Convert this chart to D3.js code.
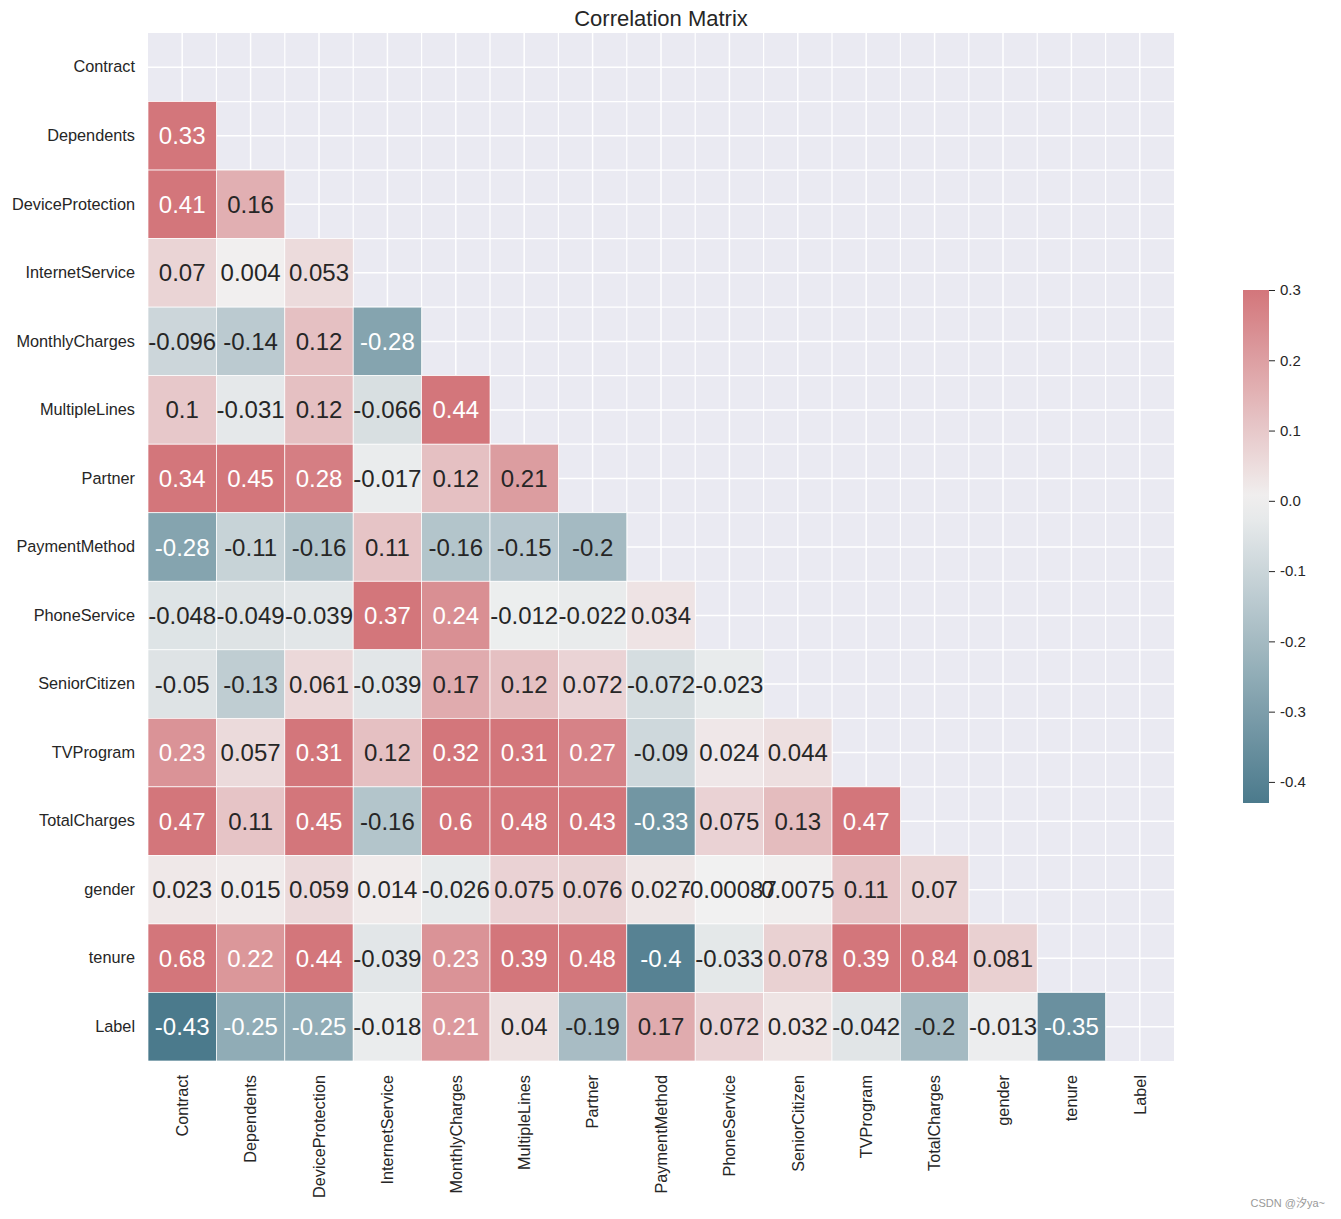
<!DOCTYPE html>
<html>
<head>
<meta charset="utf-8">
<script src="https://cdn.jsdelivr.net/npm/d3@7"></script>
<style>
  html, body { margin: 0; padding: 0; background: #ffffff; }
  svg { display: block; font-family: "Liberation Sans", Arial, sans-serif; }
</style>
</head>
<body>
<svg id="chart" width="1341" height="1219"></svg>
<script>
// ---------------- DATA ----------------
const categories = ["Contract", "Dependents", "DeviceProtection", "InternetService", "MonthlyCharges",
  "MultipleLines", "Partner", "PaymentMethod", "PhoneService", "SeniorCitizen", "TVProgram",
  "TotalCharges", "gender", "tenure", "Label"];

// lower triangle rows (row i has i values, for columns 0..i-1)
const rowContract = [];
const rowDependents = [0.33];
const rowDeviceProtection = [0.41, 0.16];
const rowInternetService = [0.07, 0.004, 0.053];
const rowMonthlyCharges = [-0.096, -0.14, 0.12, -0.28];
const rowMultipleLines = [0.1, -0.031, 0.12, -0.066, 0.44];
const rowPartner = [0.34, 0.45, 0.28, -0.017, 0.12, 0.206];
const rowPaymentMethod = [-0.28, -0.11, -0.16, 0.11, -0.16, -0.15, -0.2];
const rowPhoneService = [-0.048, -0.049, -0.039, 0.37, 0.24, -0.012, -0.022, 0.034];
const rowSeniorCitizen = [-0.05, -0.13, 0.061, -0.039, 0.17, 0.12, 0.072, -0.072, -0.023];
const rowTVProgram = [0.23, 0.057, 0.31, 0.12, 0.32, 0.31, 0.27, -0.09, 0.024, 0.044];
const rowTotalCharges = [0.47, 0.11, 0.45, -0.16, 0.6, 0.48, 0.43, -0.33, 0.075, 0.13, 0.47];
const rowGender = [0.023, 0.015, 0.059, 0.014, -0.026, 0.075, 0.076, 0.027, -0.00087, 0.0075, 0.11, 0.07];
const rowTenure = [0.68, 0.22, 0.44, -0.039, 0.23, 0.39, 0.48, -0.4, -0.033, 0.078, 0.39, 0.84, 0.081];
const rowLabel = [-0.43, -0.25, -0.25, -0.018, 0.214, 0.04, -0.19, 0.17, 0.072, 0.032, -0.042, -0.2, -0.013, -0.35];

const rows = [rowContract, rowDependents, rowDeviceProtection, rowInternetService, rowMonthlyCharges,
  rowMultipleLines, rowPartner, rowPaymentMethod, rowPhoneService, rowSeniorCitizen, rowTVProgram,
  rowTotalCharges, rowGender, rowTenure, rowLabel];

const colorbarTicks = [0.3, 0.2, 0.1, 0.0, -0.1, -0.2, -0.3, -0.4];
const vmax = 0.3;
const titleText = "Correlation Matrix";
const watermark = "CSDN @汐ya~";

// ---------------- LAYOUT ----------------
const svg = d3.select("#chart");
const plot = { left: 148, top: 33, right: 1174, bottom: 1061 };

const cells = [];
rows.forEach((vals, i) => vals.forEach((v, j) => cells.push({ row: categories[i], col: categories[j], v })));
const vmin = d3.min(cells, d => d.v);

const x = d3.scaleBand().domain(categories).range([plot.left, plot.right]).padding(0);
const y = d3.scaleBand().domain(categories).range([plot.top, plot.bottom]).padding(0);

const color = d3.scaleLinear()
  .domain([vmin, 0, vmax])
  .range(["#4b7a8c", "#f1f1f1", "#d3767b"])
  .interpolate(d3.interpolateRgb)
  .clamp(true);

function textColor(c) {
  const rgb = d3.rgb(c);
  const lin = u => { u /= 255; return u <= 0.03928 ? u / 12.92 : Math.pow((u + 0.055) / 1.055, 2.4); };
  const L = 0.2126 * lin(rgb.r) + 0.7152 * lin(rgb.g) + 0.0722 * lin(rgb.b);
  return L > 0.408 ? "#262626" : "#ffffff";
}
function fmt(v) {
  // like python ".2g"
  let s = d3.format(".2")(v);
  if (s.indexOf("e") >= 0) s = String(+v.toPrecision(2));
  return s.replace("−", "-");
}

// background
svg.append("rect").attr("x", plot.left).attr("y", plot.top)
  .attr("width", plot.right - plot.left).attr("height", plot.bottom - plot.top)
  .attr("fill", "#eaeaf2");

// grid lines (at cell centers and cell boundaries)
const grid = svg.append("g");
const bw = x.bandwidth(), bh = y.bandwidth();
categories.forEach(c => {
  const cx = x(c) + bw / 2, cy = y(c) + bh / 2;
  grid.append("line").attr("x1", cx).attr("x2", cx).attr("y1", plot.top).attr("y2", plot.bottom)
    .attr("stroke", "#ffffff").attr("stroke-width", 1.5);
  grid.append("line").attr("y1", cy).attr("y2", cy).attr("x1", plot.left).attr("x2", plot.right)
    .attr("stroke", "#ffffff").attr("stroke-width", 1.5);
});
categories.slice(1).forEach(c => {
  grid.append("line").attr("x1", x(c)).attr("x2", x(c)).attr("y1", plot.top).attr("y2", plot.bottom)
    .attr("stroke", "#ffffff").attr("stroke-width", 1.2);
  grid.append("line").attr("y1", y(c)).attr("y2", y(c)).attr("x1", plot.left).attr("x2", plot.right)
    .attr("stroke", "#ffffff").attr("stroke-width", 1.2);
});

// cells
svg.append("g").selectAll("rect").data(cells).join("rect")
  .attr("x", d => x(d.col)).attr("y", d => y(d.row))
  .attr("width", bw).attr("height", bh)
  .attr("fill", d => color(d.v))
  .attr("stroke", "#ffffff").attr("stroke-width", 0.7);

// annotations
svg.append("g").selectAll("text").data(cells).join("text")
  .attr("x", d => x(d.col) + bw / 2).attr("y", d => y(d.row) + bh / 2)
  .attr("text-anchor", "middle").attr("dominant-baseline", "central")
  .attr("font-size", 24)
  .attr("fill", d => textColor(color(d.v)))
  .text(d => fmt(d.v));

// y axis labels
const yAxis = d3.axisLeft(y).tickSize(0).tickPadding(13);
const gy = svg.append("g").attr("transform", `translate(${plot.left},0)`).call(yAxis);
gy.select(".domain").remove();
gy.selectAll("text").attr("font-size", 16.3).attr("fill", "#262626")
  .attr("font-family", "Liberation Sans, Arial, sans-serif");

// x axis labels (rotated)
const xAxis = d3.axisBottom(x).tickSize(0).tickPadding(0);
const gx = svg.append("g").attr("transform", `translate(0,${plot.bottom})`).call(xAxis);
gx.select(".domain").remove();
gx.selectAll("text").attr("font-size", 16.3).attr("fill", "#262626")
  .attr("font-family", "Liberation Sans, Arial, sans-serif")
  .attr("transform", "rotate(-90)")
  .attr("text-anchor", "end")
  .attr("x", -14).attr("y", 0).attr("dy", "0.35em");

// title
svg.append("text").attr("x", (plot.left + plot.right) / 2).attr("y", 26)
  .attr("text-anchor", "middle").attr("font-size", 22).attr("fill", "#262626")
  .text(titleText);

// colorbar
const cb = { left: 1243, width: 26, top: 290, bottom: 803 };
const cbScale = d3.scaleLinear().domain([vmin, vmax]).range([cb.bottom, cb.top]);
const defs = svg.append("defs");
const grad = defs.append("linearGradient").attr("id", "cbgrad")
  .attr("x1", 0).attr("y1", 1).attr("x2", 0).attr("y2", 0);
d3.range(0, 1.0001, 0.05).forEach(t => {
  const v = vmin + t * (vmax - vmin);
  grad.append("stop").attr("offset", t).attr("stop-color", color(v));
});
svg.append("rect").attr("x", cb.left).attr("y", cb.top).attr("width", cb.width)
  .attr("height", cb.bottom - cb.top).attr("fill", "url(#cbgrad)");
const cbAxis = d3.axisRight(cbScale).tickValues(colorbarTicks).tickSize(6).tickPadding(5)
  .tickFormat(d3.format(".1f"));
const gcb = svg.append("g").attr("transform", `translate(${cb.left + cb.width},0)`).call(cbAxis);
gcb.select(".domain").remove();
gcb.selectAll("line").attr("stroke", "#262626").attr("stroke-width", 1);
gcb.selectAll("text").attr("font-size", 15).attr("fill", "#262626")
  .attr("font-family", "Liberation Sans, Arial, sans-serif")
  .text(d => d3.format(".1f")(d).replace("−", "-"));

// watermark
svg.append("text").attr("x", 1325).attr("y", 1207).attr("text-anchor", "end")
  .attr("font-size", 11).attr("fill", "#999999")
  .attr("font-family", "Liberation Sans, 'Noto Sans CJK SC', sans-serif")
  .text(watermark);
</script>
</body>
</html>
